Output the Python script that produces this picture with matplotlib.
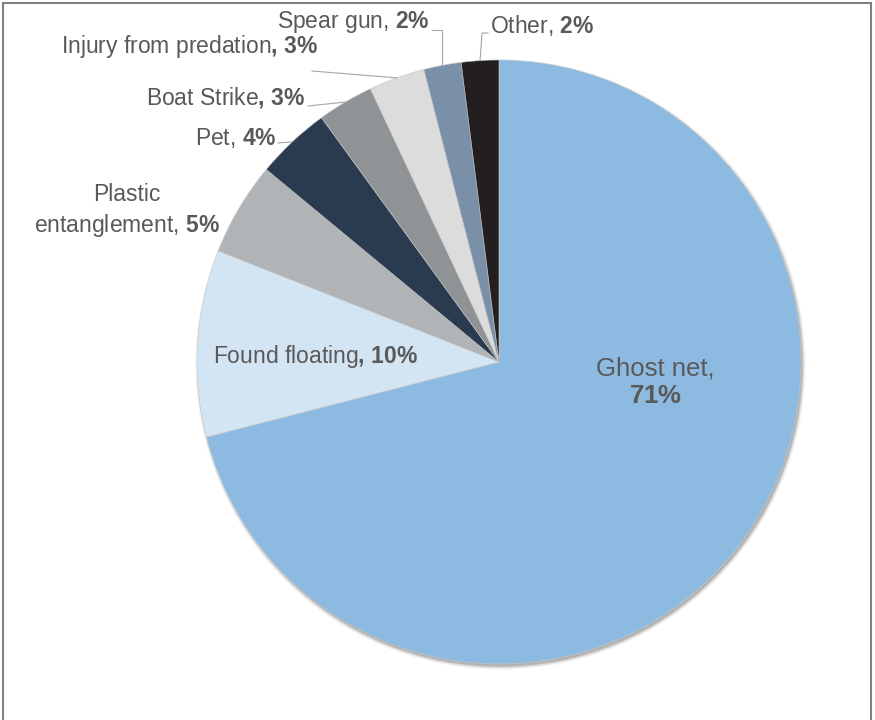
import numpy as np
import matplotlib.pyplot as plt
from matplotlib.patches import Circle, Rectangle

plt.rcParams['font.family'] = ['Liberation Sans', 'DejaVu Sans']
plt.rcParams['mathtext.fontset'] = 'custom'
plt.rcParams['mathtext.rm'] = 'Liberation Sans'
plt.rcParams['mathtext.bf'] = 'Liberation Sans:bold'

# data (clockwise from 12 o'clock)
causes = ['Ghost net', 'Found floating', 'Plastic entanglement', 'Pet',
          'Boat Strike', 'Injury from predation', 'Spear gun', 'Other']
shares = [71, 10, 5, 4, 3, 3, 2, 2]
colors = ['#8CBAE1', '#D3E4F3', '#B1B4B6', '#2B3B4F',
          '#8F9395', '#DCDCDC', '#7A90A9', '#231F20']

W, H = 875, 720
fig = plt.figure(figsize=(W / 100, H / 100), dpi=100)
ax = fig.add_axes([0, 0, 1, 1])

cx, cy, R = 499, H - 362, 302
txt_col = '#595959'

# soft shadow under the pie
for i, a in enumerate([0.06, 0.08, 0.12, 0.2]):
    ax.add_patch(Circle((cx + 1.5, cy - 2.5), R + 3 - i, fc='#404040', ec='none',
                        alpha=a, zorder=1))

ax.pie(shares, colors=colors, startangle=90, counterclock=False,
       center=(cx, cy), radius=R, frame=True,
       wedgeprops=dict(edgecolor='#c8c8c8', linewidth=0.4, zorder=2))
ax.set_xlim(0, W)
ax.set_ylim(0, H)
ax.axis('off')

# edge points for leader lines, from cumulative shares
cum = np.cumsum([0] + shares) / sum(shares)
def edge_pt(i):
    mid = (cum[i] + cum[i + 1]) / 2
    ang = np.deg2rad(90 - 360 * mid)
    return cx + R * np.cos(ang), cy + R * np.sin(ang)

def Y(y):
    return H - y

def pct(i, bold_comma=False):
    if bold_comma:
        return causes[i] + r'$\mathbf{,}$ $\mathbf{%d\%%}$' % shares[i]
    return causes[i] + r', $\mathbf{%d\%%}$' % shares[i]

fs = 16.5
kw = dict(fontsize=fs, color=txt_col, zorder=5, va='center')

# labels
ax.text(655, Y(382), causes[0] + ',\n' + r'$\mathbf{%d\%%}$' % shares[0],
        ha='center', va='center', fontsize=18.5, color=txt_col,
        linespacing=1.2, zorder=5)
ax.text(418, Y(357), pct(1, True), ha='right', **kw)
ax.text(127, Y(211), 'Plastic\n' + r'entanglement, $\mathbf{%d\%%}$' % shares[2],
        ha='center', linespacing=1.3, **kw)
ax.text(277, Y(138), pct(3), ha='right', **kw)
ax.text(305, Y(98), pct(4, True), ha='right', **kw)
ax.text(318, Y(47), pct(5, True), ha='right', **kw)
ax.text(430, Y(22), pct(6), ha='right', **kw)
ax.text(490, Y(26), pct(7), ha='left', **kw)

# leader lines
lc = dict(color='#a6a6a6', lw=0.8, zorder=4)
x, y = edge_pt(3)
ax.plot([278, x], [Y(143), y], **lc)
x, y = edge_pt(4)
ax.plot([308, x], [Y(106), y], **lc)
x, y = edge_pt(5)
ax.plot([312, x], [Y(71), y], **lc)
x, y = edge_pt(6)
ax.plot([432, x, x], [Y(30), Y(30), y], **lc)
x, y = edge_pt(7)
ax.plot([488, x + 2, x], [Y(33), Y(33), y], **lc)

# chart frame
fig.patches.append(Rectangle((3 / W, -0.05), 868 / W, 1.05 - 3 / H,
                             transform=fig.transFigure, fill=False,
                             ec='#808080', lw=1.5))

fig.savefig('out.png', dpi=100)
